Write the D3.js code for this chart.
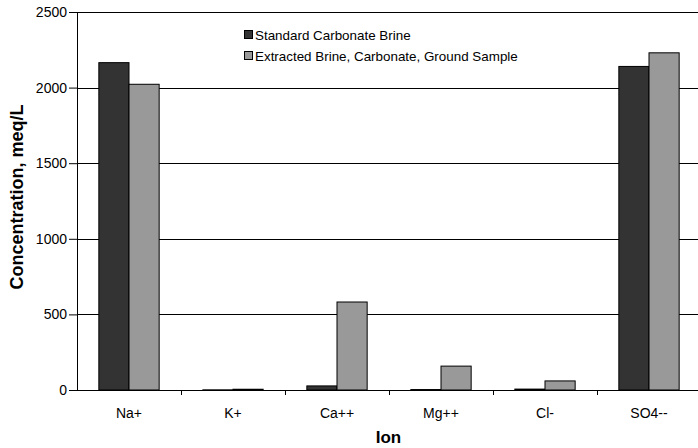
<!DOCTYPE html>
<html>
<head>
<meta charset="utf-8">
<script src="https://cdn.jsdelivr.net/npm/d3@7"></script>
<style>
  body { margin: 0; background: #fff; }
  svg { display: block; font-family: "Liberation Sans", Arial, sans-serif; }
</style>
</head>
<body>
<svg id="chart" width="698" height="448"></svg>
<script>
// Ion concentrations (meq/L) for the two brine samples
const ions = ["Na+", "K+", "Ca++", "Mg++", "Cl-", "SO4--"];
const seriesNames = ["Standard Carbonate Brine", "Extracted Brine, Carbonate, Ground Sample"];
const standardBrine = [2165, 1, 27, 3, 6, 2140];
const extractedBrine = [2022, 5, 582, 158, 60, 2230];
const yTicks = [0, 500, 1000, 1500, 2000, 2500];
const seriesColors = ["#333333", "#999999"];

const svg = d3.select("#chart");
const margin = { top: 12, right: 0, bottom: 58, left: 77 };
const width = 698, height = 448;
const plotW = width - margin.left - margin.right;
const plotH = height - margin.top - margin.bottom;

const g = svg.append("g").attr("transform", `translate(${margin.left},${margin.top})`);

const x0 = d3.scaleBand().domain(ions).range([0, plotW + 3]).paddingInner(0.42).paddingOuter(0.21);
const x1 = d3.scaleBand().domain([0, 1]).range([0, x0.bandwidth()]);
const y = d3.scaleLinear().domain([0, 2500]).range([plotH, 0]);

// horizontal gridlines
g.selectAll(".grid").data(yTicks.filter(d => d > 0)).enter().append("line")
  .attr("x1", 0).attr("x2", plotW)
  .attr("y1", d => Math.round(y(d)) + 0.5).attr("y2", d => Math.round(y(d)) + 0.5)
  .attr("stroke", "#000").attr("stroke-width", 1);

// bars
const rows = ions.map((ion, i) => ({ ion, values: [standardBrine[i], extractedBrine[i]] }));
const groups = g.selectAll(".ion").data(rows).enter().append("g")
  .attr("transform", d => `translate(${x0(d.ion)},0)`);
groups.selectAll("rect").data(d => d.values.map((v, k) => ({ k, v }))).enter().append("rect")
  .attr("x", d => x1(d.k))
  .attr("width", x1.bandwidth())
  .attr("y", d => y(d.v))
  .attr("height", d => plotH - y(d.v))
  .attr("fill", d => seriesColors[d.k])
  .attr("stroke", "#000").attr("stroke-width", 1);

// y axis
const yAxis = g.append("g")
  .call(d3.axisLeft(y).tickValues(yTicks).tickSize(8).tickPadding(2).tickFormat(d3.format("d")));
yAxis.select(".domain").attr("stroke", "#000");
yAxis.selectAll("text").attr("font-size", 14).attr("fill", "#000");

// x axis with ticks at band boundaries
const xAxisG = g.append("g").attr("transform", `translate(0,${plotH})`);
xAxisG.append("line").attr("x1", 0).attr("x2", plotW).attr("y1", 0.5).attr("y2", 0.5).attr("stroke", "#000");
const step = x0.step();
const bounds = d3.range(1, ions.length).map(i => x0(ions[i]) - x0.paddingInner() * step / 2);
xAxisG.selectAll(".tk").data(bounds).enter().append("line")
  .attr("x1", d => Math.round(d) + 0.5).attr("x2", d => Math.round(d) + 0.5)
  .attr("y1", 0).attr("y2", 5).attr("stroke", "#000");
xAxisG.selectAll(".lbl").data(ions).enter().append("text")
  .attr("x", d => x0(d) + x0.bandwidth() / 2)
  .attr("y", 28)
  .attr("text-anchor", "middle").attr("font-size", 14).attr("fill", "#000")
  .text(d => d);

// axis titles
svg.append("text").attr("x", margin.left + plotW / 2 + 1).attr("y", 443)
  .attr("text-anchor", "middle").attr("font-size", 17).attr("font-weight", "bold").text("Ion");
svg.append("text").attr("transform", "translate(23,197) rotate(-90)")
  .attr("text-anchor", "middle").attr("font-size", 18).attr("font-weight", "bold")
  .text("Concentration, meq/L");

// legend
const legend = svg.append("g").attr("transform", "translate(244,30)");
seriesNames.forEach((name, k) => {
  const row = legend.append("g").attr("transform", `translate(0,${k * 21})`);
  row.append("rect").attr("x", 0.5).attr("y", 0.5).attr("width", 8).attr("height", 8)
    .attr("fill", seriesColors[k]).attr("stroke", "#000").attr("stroke-width", 1);
  row.append("text").attr("x", 11).attr("y", 9.5).attr("font-size", 13.4).attr("fill", "#000").text(name);
});
</script>
</body>
</html>
